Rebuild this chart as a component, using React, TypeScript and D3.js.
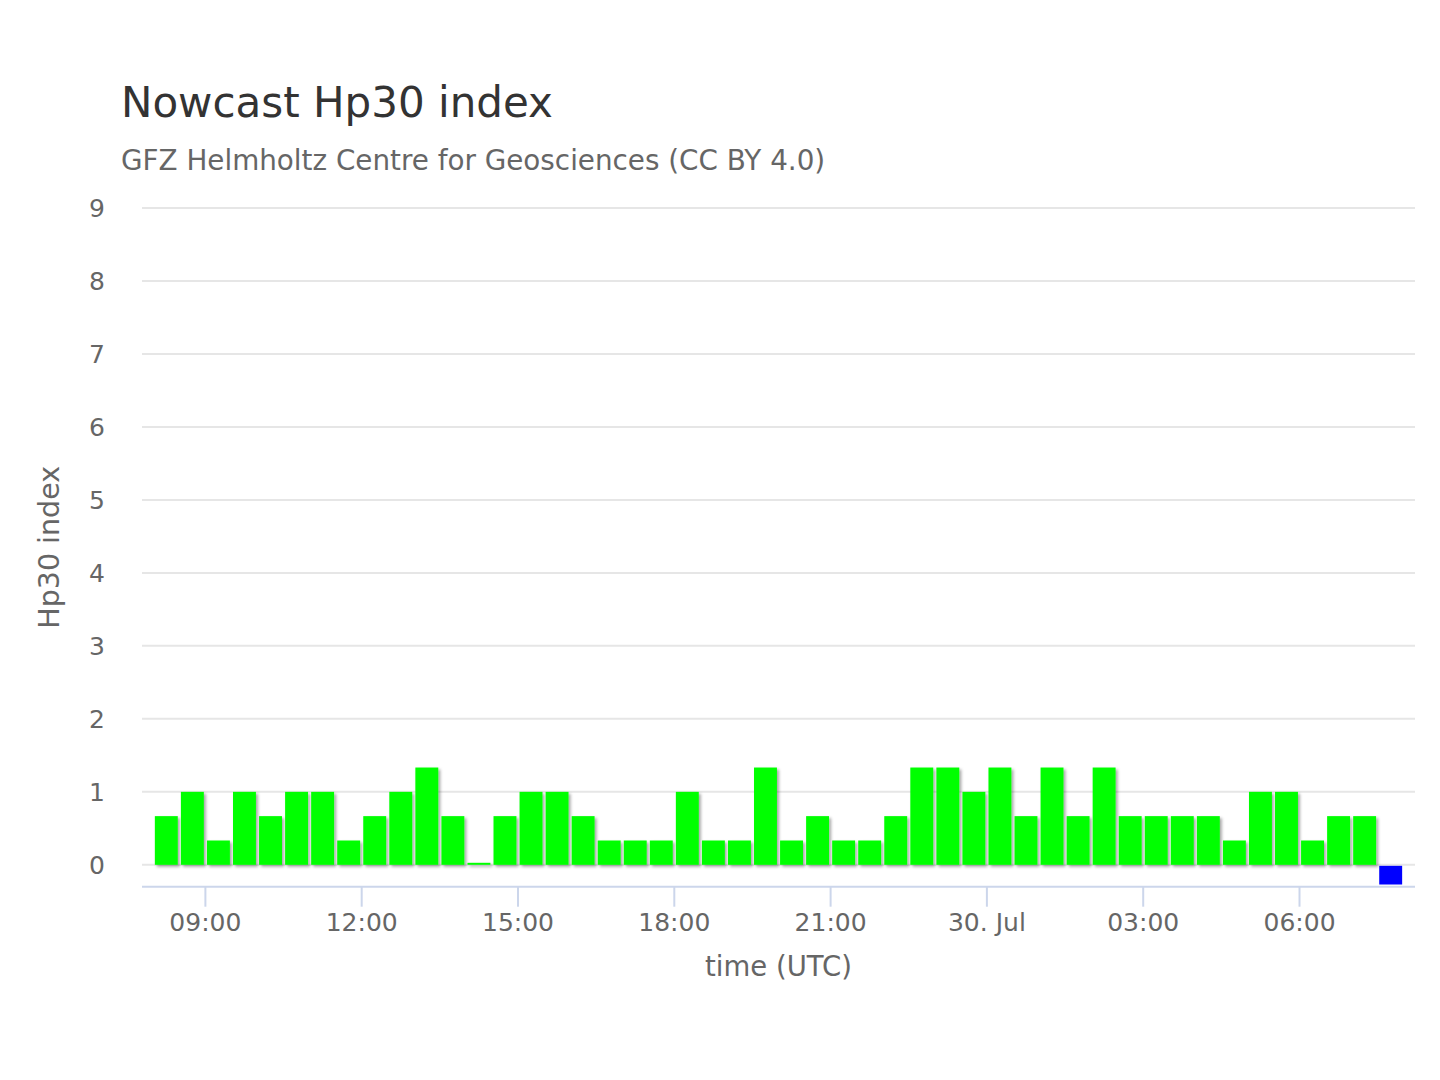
import React, { useEffect, useRef } from 'react';
import * as d3 from 'd3';

// Hp30 nowcast, one bar per 30-minute interval (start times, UTC)
const slotStarts = [
  '2024-07-29T08:00Z', '2024-07-29T08:30Z', '2024-07-29T09:00Z', '2024-07-29T09:30Z',
  '2024-07-29T10:00Z', '2024-07-29T10:30Z', '2024-07-29T11:00Z', '2024-07-29T11:30Z',
  '2024-07-29T12:00Z', '2024-07-29T12:30Z', '2024-07-29T13:00Z', '2024-07-29T13:30Z',
  '2024-07-29T14:00Z', '2024-07-29T14:30Z', '2024-07-29T15:00Z', '2024-07-29T15:30Z',
  '2024-07-29T16:00Z', '2024-07-29T16:30Z', '2024-07-29T17:00Z', '2024-07-29T17:30Z',
  '2024-07-29T18:00Z', '2024-07-29T18:30Z', '2024-07-29T19:00Z', '2024-07-29T19:30Z',
  '2024-07-29T20:00Z', '2024-07-29T20:30Z', '2024-07-29T21:00Z', '2024-07-29T21:30Z',
  '2024-07-29T22:00Z', '2024-07-29T22:30Z', '2024-07-29T23:00Z', '2024-07-29T23:30Z',
  '2024-07-30T00:00Z', '2024-07-30T00:30Z', '2024-07-30T01:00Z', '2024-07-30T01:30Z',
  '2024-07-30T02:00Z', '2024-07-30T02:30Z', '2024-07-30T03:00Z', '2024-07-30T03:30Z',
  '2024-07-30T04:00Z', '2024-07-30T04:30Z', '2024-07-30T05:00Z', '2024-07-30T05:30Z',
  '2024-07-30T06:00Z', '2024-07-30T06:30Z', '2024-07-30T07:00Z',
];

const hp30Values = [
  0.667, 1, 0.333, 1, 0.667, 1, 1, 0.333, 0.667, 1, 1.333, 0.667,
  0, 0.667, 1, 1, 0.667, 0.333, 0.333, 0.333, 1, 0.333, 0.333, 1.333,
  0.333, 0.667, 0.333, 0.333, 0.667, 1.333, 1.333, 1, 1.333, 0.667, 1.333, 0.667,
  1.333, 0.667, 0.667, 0.667, 0.667, 0.333, 1, 1, 0.333, 0.667, 0.667,
];

// last interval, not yet available (drawn below zero in blue)
const pendingStarts = ['2024-07-30T07:30Z'];
const pendingValues = [-0.27];

const xTickTimes = [
  '2024-07-29T09:00Z', '2024-07-29T12:00Z', '2024-07-29T15:00Z', '2024-07-29T18:00Z',
  '2024-07-29T21:00Z', '2024-07-30T00:00Z', '2024-07-30T03:00Z', '2024-07-30T06:00Z',
];
const xTickLabels = ['09:00', '12:00', '15:00', '18:00', '21:00', '30. Jul', '03:00', '06:00'];
const yTicks = [0, 1, 2, 3, 4, 5, 6, 7, 8, 9];

const FONT = '"DejaVu Sans", Verdana, sans-serif';

const App: React.FC = () => {
  const svgRef = useRef<SVGSVGElement>(null);

  useEffect(() => {
    const W = 1440, H = 1080;
    const plot = { left: 142, right: 1415, top: 208, bottom: 886.7 };
    const halfHour = 30 * 60 * 1000;

    const svg = d3.select(svgRef.current)
      .attr('width', W)
      .attr('height', H)
      .style('position', 'absolute')
      .style('left', 0)
      .style('top', 0)
      .style('font-family', FONT);
    svg.selectAll('*').remove();

    svg.append('rect').attr('width', W).attr('height', H).attr('fill', '#fff');

    const defs = svg.append('defs');
    defs.append('filter')
      .attr('id', 'colShadow')
      .attr('x', '-20%').attr('y', '-20%').attr('width', '150%').attr('height', '150%')
      .append('feDropShadow')
      .attr('dx', 2).attr('dy', 2).attr('stdDeviation', 1.5)
      .attr('flood-color', '#000').attr('flood-opacity', 0.35);

    const x = d3.scaleUtc()
      .domain([new Date('2024-07-29T07:47Z'), new Date('2024-07-30T08:13Z')])
      .range([plot.left, plot.right]);

    const y = d3.scaleLinear()
      .domain([-0.3, 9])
      .range([plot.bottom, plot.top]);

    // grid lines
    svg.append('g')
      .selectAll('line')
      .data(yTicks)
      .enter().append('line')
      .attr('x1', plot.left).attr('x2', plot.right)
      .attr('y1', d => y(d)).attr('y2', d => y(d))
      .attr('stroke', '#e6e6e6')
      .attr('stroke-width', 2);

    // y labels
    svg.append('g')
      .selectAll('text')
      .data(yTicks)
      .enter().append('text')
      .attr('x', 105)
      .attr('y', d => y(d))
      .attr('dy', '0.35em')
      .attr('text-anchor', 'end')
      .attr('font-size', 25)
      .attr('fill', '#666')
      .text(d => d);

    const barW = (x(new Date(halfHour)) - x(new Date(0))) * 0.88;

    const bars = slotStarts.map((s, i) => ({ t: new Date(s), v: hp30Values[i] }));
    const pending = pendingStarts.map((s, i) => ({ t: new Date(s), v: pendingValues[i] }));
    const cx = (t: Date) => x(new Date(t.getTime() + halfHour / 2));

    svg.append('g')
      .attr('filter', 'url(#colShadow)')
      .selectAll('rect')
      .data(bars)
      .enter().append('rect')
      .attr('x', d => cx(d.t) - barW / 2)
      .attr('width', barW)
      .attr('y', d => Math.min(y(d.v), y(0) - 2))
      .attr('height', d => Math.max(y(0) - y(d.v), 2))
      .attr('fill', '#00ff00');

    svg.append('g')
      .selectAll('rect')
      .data(pending)
      .enter().append('rect')
      .attr('x', d => cx(d.t) - barW / 2)
      .attr('width', barW)
      .attr('y', y(0) + 1)
      .attr('height', d => y(d.v) - y(0) - 1)
      .attr('fill', '#0000ff');

    // x axis
    const xAxis = svg.append('g').attr('transform', `translate(0,${plot.bottom})`);
    xAxis.append('line')
      .attr('x1', plot.left).attr('x2', plot.right)
      .attr('stroke', '#ccd6eb').attr('stroke-width', 2);
    const ticks = xTickTimes.map((s, i) => ({ t: new Date(s), label: xTickLabels[i] }));
    const tg = xAxis.selectAll('g.tick')
      .data(ticks)
      .enter().append('g')
      .attr('class', 'tick')
      .attr('transform', d => `translate(${x(d.t)},0)`);
    tg.append('line').attr('y2', 20).attr('stroke', '#ccd6eb').attr('stroke-width', 2);
    tg.append('text')
      .attr('y', 44)
      .attr('text-anchor', 'middle')
      .attr('font-size', 25)
      .attr('fill', '#666')
      .text(d => d.label);

    svg.append('text')
      .attr('x', (plot.left + plot.right) / 2)
      .attr('y', 976)
      .attr('text-anchor', 'middle')
      .attr('font-size', 27.5)
      .attr('fill', '#666')
      .text('time (UTC)');

    svg.append('text')
      .attr('transform', `translate(59,${(plot.top + plot.bottom) / 2}) rotate(-90)`)
      .attr('text-anchor', 'middle')
      .attr('font-size', 28.5)
      .attr('fill', '#666')
      .text('Hp30 index');

    svg.append('text')
      .attr('x', 121).attr('y', 117)
      .attr('font-size', 42)
      .attr('fill', '#333')
      .text('Nowcast Hp30 index');

    svg.append('text')
      .attr('x', 121).attr('y', 170)
      .attr('font-size', 27.8)
      .attr('fill', '#666')
      .text('GFZ Helmholtz Centre for Geosciences (CC BY 4.0)');
  }, []);

  return <svg ref={svgRef}></svg>;
};

export default App;
